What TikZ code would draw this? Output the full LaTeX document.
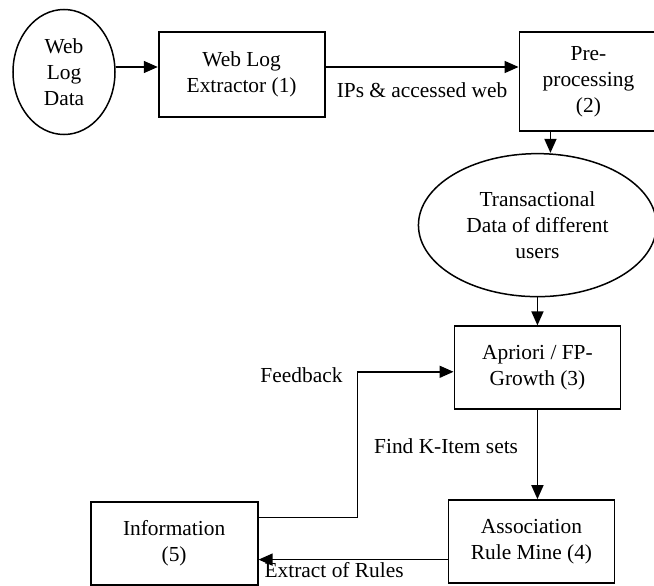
\documentclass[tikz,border=0pt]{standalone}
\usepackage{fontspec}
\setmainfont{Liberation Serif}
\usepackage{tikz}
\usetikzlibrary{
    positioning,
    arrows.meta,
    shapes.geometric
}
\tikzset{
    procbox/.style={
        rectangle, draw, line width=0.9pt,
        minimum width=83pt, minimum height=42.5pt,
        align=center, inner sep=2pt
    },
    databubble/.style={
        ellipse, draw, line width=0.75pt,
        align=center, inner sep=1pt
    },
    arrow/.style={
        -{Triangle[length=7pt,width=6pt]}, line width=0.75pt, draw=black
    }
}

\begin{document}
\begin{tikzpicture}[
        x=0.5pt, y=0.5pt,
        font=\fontsize{10.7}{13}\selectfont,
        node distance=20pt
    ]

        \useasboundingbox (0,0) rectangle (654,585);

        % Raw input
        \node[databubble, minimum width=51pt, minimum height=62.5pt] (web_data) at (64,513) {Web\\Log\\Data};

        % Top row
        \node[procbox, right=21pt of web_data, yshift=-1.25pt] (log_extractor) {Web Log\\Extractor (1)};
        \node[procbox, minimum width=69pt, minimum height=49.5pt, right=96.5pt of log_extractor.north east, anchor=north west] (pre_proc) {Pre-\\processing\\(2)};

        % Transactions and mining
        \node[databubble, minimum width=119pt, minimum height=71.5pt, below=10.5pt of pre_proc, xshift=-25.5pt] (trans_data) {Transactional\\Data of different\\users};
        \node[procbox, minimum height=41.5pt, below=14pt of trans_data] (apriori) {Apriori / FP-\\Growth (3)};
        \node[procbox, minimum height=41.5pt, below=44.5pt of apriori, xshift=-3pt] (assoc_rule) {Association\\Rule Mine (4)};

        % Output
        \node[procbox, minimum width=83.5pt, minimum height=41.5pt, left=94.5pt of assoc_rule, yshift=-1pt] (info_out) {Information\\(5)};
        \node[left=52pt of apriori.west, yshift=-3.75pt] (fb_label) {Feedback};

        % Arrows
        \draw[arrow] ([yshift=2.5pt]web_data.east) -- ([yshift=2.5pt]web_data.east -| log_extractor.west);
        \draw[arrow] ([yshift=3.75pt]log_extractor.east) -- ([yshift=3.75pt]log_extractor.east -| pre_proc.west) node[midway, below=4pt] {IPs \& accessed web};
        \draw[arrow] ([xshift=-19pt]pre_proc.south) -- ([xshift=-19pt]pre_proc.south |- trans_data.north);
        \draw[arrow] (trans_data) -- (apriori);
        \draw[arrow] (apriori) -- (apriori |- assoc_rule.north) node[pos=0.4, left=6pt] {Find K-Item sets};
        \draw[arrow] ([yshift=-9pt]assoc_rule.west) -- ([yshift=-9pt]assoc_rule.west -| info_out.east) node[pos=0.6, below=0pt, inner sep=1pt] {Extract of Rules};
        \draw[arrow] ([yshift=13pt]info_out.east) -- ++(49.5pt,0) |- ([yshift=-2pt]apriori.west);

    \end{tikzpicture}
\end{document}
